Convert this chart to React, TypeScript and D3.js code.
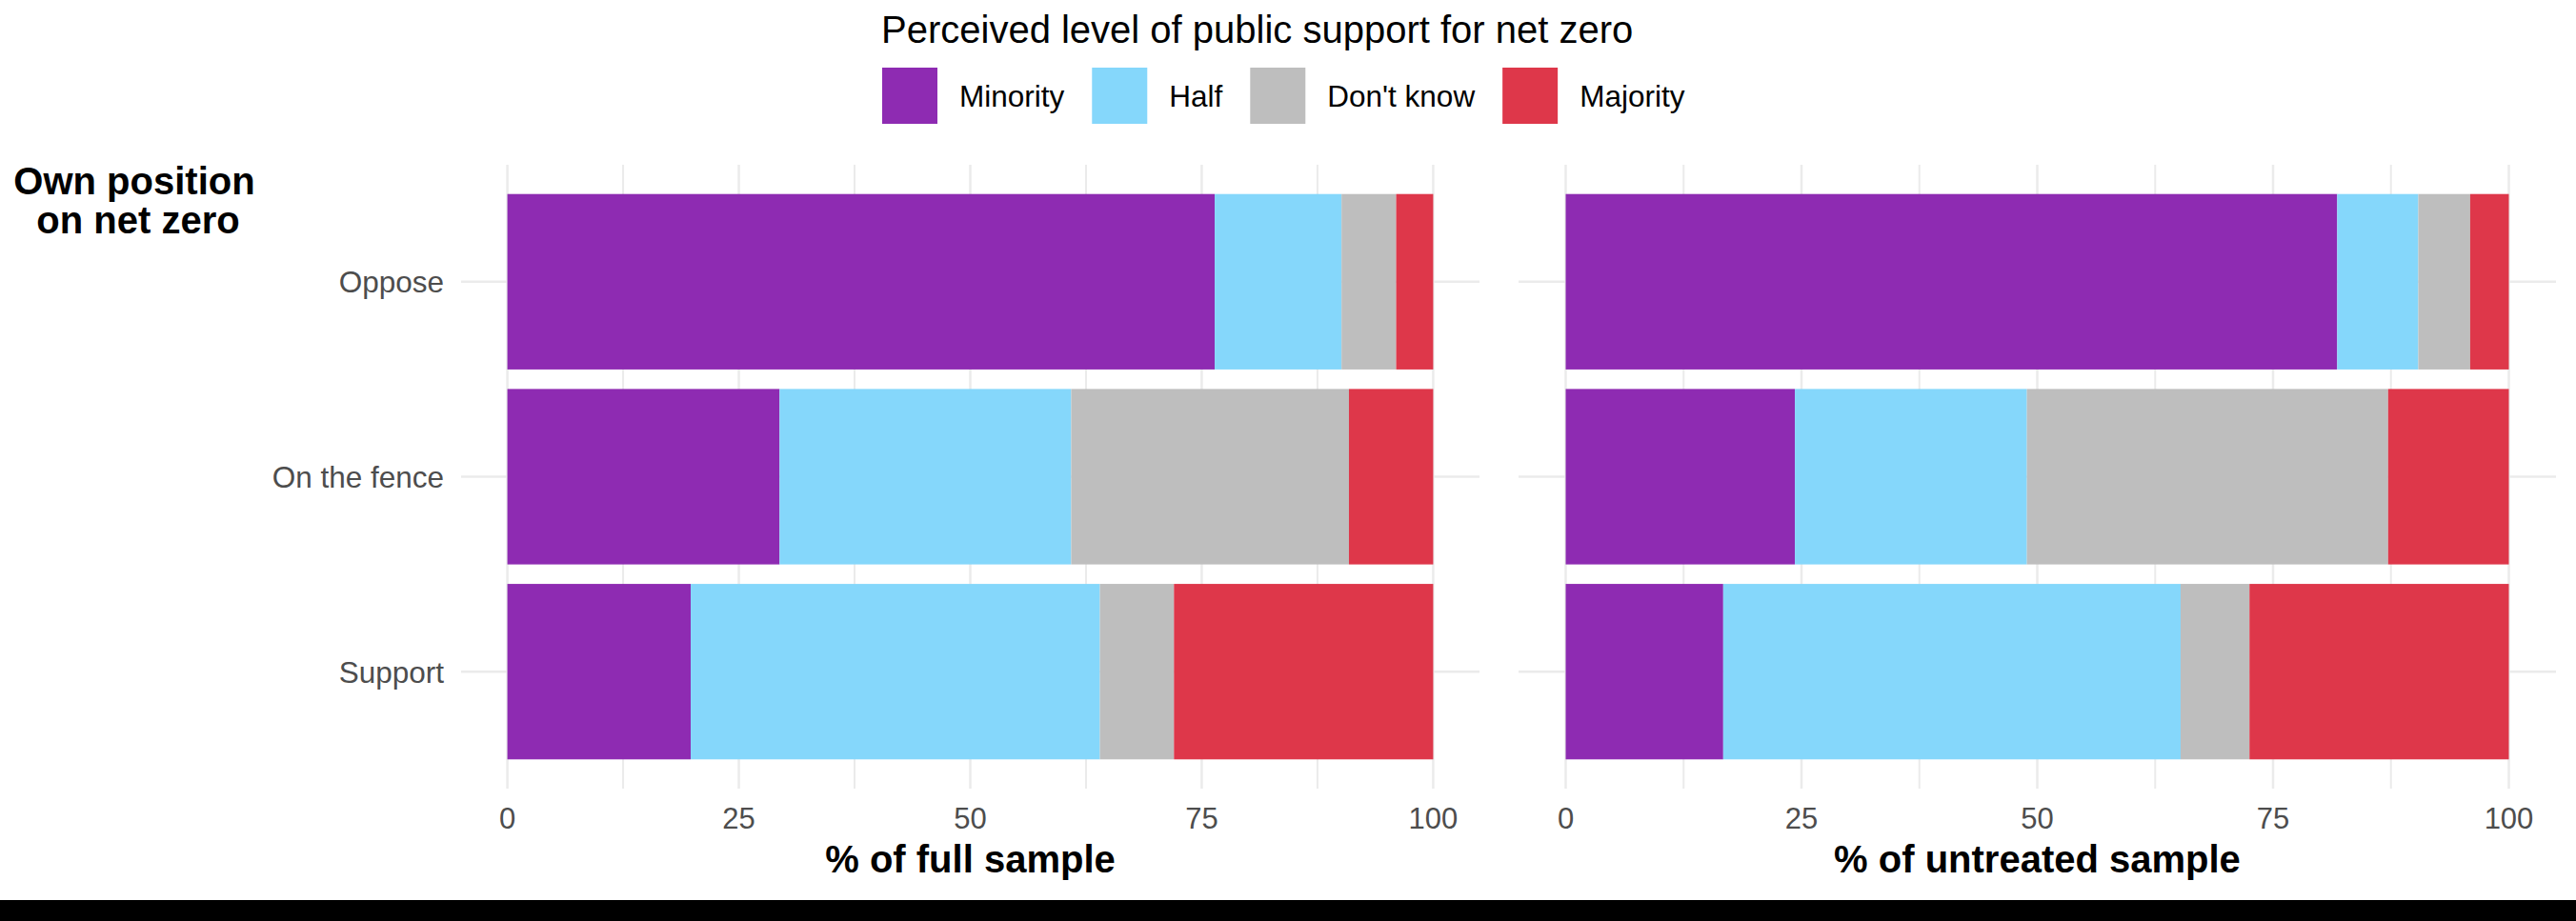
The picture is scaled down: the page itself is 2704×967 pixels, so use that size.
import { useEffect, useRef } from 'react';
import * as d3 from 'd3';

// own position on net zero (rows)
const positions = ['Oppose', 'On the fence', 'Support'];
// perceived level of public support (stack order, left to right)
const levels = ['Minority', 'Half', "Don't know", 'Majority'];
const levelColors = ['#8E2BB2', '#85D7FB', '#BEBEBE', '#DE374A'];

// % of full sample, per position
const fullMinority = [76.4, 29.4, 19.8];
const fullHalf = [13.7, 31.5, 44.2];
const fullDontKnow = [5.9, 30.0, 8.0];
const fullMajority = [4.0, 9.1, 28.0];

// % of untreated sample, per position
const untreatedMinority = [81.8, 24.3, 16.7];
const untreatedHalf = [8.6, 24.6, 48.5];
const untreatedDontKnow = [5.5, 38.3, 7.3];
const untreatedMajority = [4.1, 12.8, 27.5];

const xTicks = [0, 25, 50, 75, 100];
const xMinorTicks = [12.5, 37.5, 62.5, 87.5];

const FONT = '"Liberation Sans", Arial, Helvetica, sans-serif';

const App = () => {
    const svgRef = useRef<SVGSVGElement>(null);

    useEffect(() => {
        if (!svgRef.current) return;
        document.body.style.margin = '0';

        const svg = d3.select(svgRef.current);
        svg.selectAll('*').remove();

        const width = 2704;
        const height = 967;
        svg.attr('width', width).attr('height', height);

        svg.append('rect')
            .attr('width', width)
            .attr('height', height)
            .attr('fill', '#ffffff');

        const panelTop = 173;
        const panelBottom = 828;

        const yScale = d3.scaleBand()
            .domain(positions)
            .range([panelTop, panelBottom])
            .paddingInner(0.1)
            .paddingOuter(0.15);

        const panels = [
            {
                left: 484, right: 1553, title: '% of full sample', showY: true,
                series: [fullMinority, fullHalf, fullDontKnow, fullMajority],
            },
            {
                left: 1594, right: 2683, title: '% of untreated sample', showY: false,
                series: [untreatedMinority, untreatedHalf, untreatedDontKnow, untreatedMajority],
            },
        ];

        panels.forEach(p => {
            const w = p.right - p.left;
            const pad = w * 0.05 / 1.1;
            const xScale = d3.scaleLinear()
                .domain([0, 100])
                .range([p.left + pad, p.right - pad]);

            const g = svg.append('g');

            // grid
            g.selectAll('.minor')
                .data(xMinorTicks)
                .enter()
                .append('line')
                .attr('x1', d => xScale(d))
                .attr('x2', d => xScale(d))
                .attr('y1', panelTop)
                .attr('y2', panelBottom)
                .attr('stroke', '#EBEBEB')
                .attr('stroke-width', 2);

            g.selectAll('.major')
                .data(xTicks)
                .enter()
                .append('line')
                .attr('x1', d => xScale(d))
                .attr('x2', d => xScale(d))
                .attr('y1', panelTop)
                .attr('y2', panelBottom)
                .attr('stroke', '#EBEBEB')
                .attr('stroke-width', 2.5);

            g.selectAll('.hgrid')
                .data(positions)
                .enter()
                .append('line')
                .attr('x1', p.left)
                .attr('x2', p.right)
                .attr('y1', d => (yScale(d) || 0) + yScale.bandwidth() / 2)
                .attr('y2', d => (yScale(d) || 0) + yScale.bandwidth() / 2)
                .attr('stroke', '#EBEBEB')
                .attr('stroke-width', 2.5);

            // stacked bars
            const rows = positions.map((pos, i) => {
                const row: Record<string, number | string> = { position: pos };
                levels.forEach((lv, j) => { row[lv] = p.series[j][i]; });
                return row;
            });
            const stacked = d3.stack<Record<string, number | string>>()
                .keys(levels)(rows);

            stacked.forEach((layer, j) => {
                g.selectAll(`.bar-${j}`)
                    .data(layer)
                    .enter()
                    .append('rect')
                    .attr('x', d => xScale(d[0]))
                    .attr('y', d => yScale(d.data.position as string) || 0)
                    .attr('width', d => xScale(d[1]) - xScale(d[0]))
                    .attr('height', yScale.bandwidth())
                    .attr('fill', levelColors[j]);
            });

            // x tick labels
            g.selectAll('.xtick')
                .data(xTicks)
                .enter()
                .append('text')
                .attr('x', d => xScale(d))
                .attr('y', 870)
                .attr('text-anchor', 'middle')
                .attr('font-family', FONT)
                .attr('font-size', 31)
                .attr('fill', '#4D4D4D')
                .text(d => d);

            // x axis title
            g.append('text')
                .attr('x', (xScale(0) + xScale(100)) / 2)
                .attr('y', 916)
                .attr('text-anchor', 'middle')
                .attr('font-family', FONT)
                .attr('font-size', 40)
                .attr('font-weight', 'bold')
                .attr('fill', '#000')
                .text(p.title);

            if (p.showY) {
                g.selectAll('.ytick')
                    .data(positions)
                    .enter()
                    .append('text')
                    .attr('x', p.left - 18)
                    .attr('y', d => (yScale(d) || 0) + yScale.bandwidth() / 2)
                    .attr('dy', '0.36em')
                    .attr('text-anchor', 'end')
                    .attr('font-family', FONT)
                    .attr('font-size', 31.5)
                    .attr('fill', '#4D4D4D')
                    .text(d => d);
            }
        });

        // y axis title, top-left
        const yTitle = svg.append('text')
            .attr('text-anchor', 'middle')
            .attr('font-family', FONT)
            .attr('font-size', 40)
            .attr('font-weight', 'bold')
            .attr('fill', '#000');
        yTitle.append('tspan').attr('x', 141).attr('y', 204).text('Own position');
        yTitle.append('tspan').attr('x', 145).attr('y', 245).text('on net zero');

        // legend
        svg.append('text')
            .attr('x', 925)
            .attr('y', 45)
            .attr('font-family', FONT)
            .attr('font-size', 40)
            .attr('fill', '#000')
            .text('Perceived level of public support for net zero');

        let lx = 926;
        levels.forEach((lv, j) => {
            svg.append('rect')
                .attr('x', lx)
                .attr('y', 71)
                .attr('width', 58)
                .attr('height', 59)
                .attr('fill', levelColors[j]);
            const t = svg.append('text')
                .attr('x', lx + 58 + 23)
                .attr('y', 112)
                .attr('font-family', FONT)
                .attr('font-size', 31.5)
                .attr('fill', '#000')
                .text(lv);
            const len = (t.node() as SVGTextElement).getComputedTextLength();
            lx = lx + 58 + 23 + len + 29;
        });

        // black strip along the bottom edge of the picture
        svg.append('rect')
            .attr('x', 0)
            .attr('y', 945)
            .attr('width', width)
            .attr('height', height - 945)
            .attr('fill', '#000');
    }, []);

    return (
        <svg ref={svgRef} style={{ display: 'block' }}></svg>
    );
};

export default App;
